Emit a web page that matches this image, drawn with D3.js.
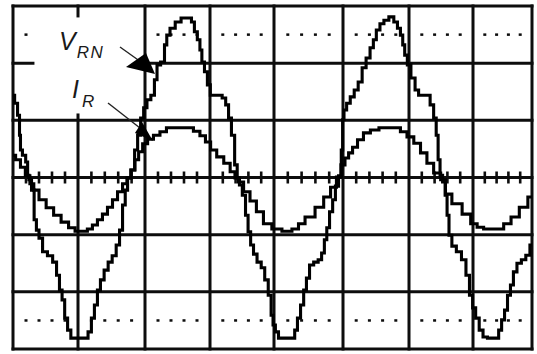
<!DOCTYPE html>
<html>
<head>
<meta charset="utf-8">
<script src="https://cdn.jsdelivr.net/npm/d3@7"></script>
<style>
  html, body { margin: 0; padding: 0; background: #fff; }
  svg { display: block; }
</style>
</head>
<body>
<svg id="scope" width="537" height="354"></svg>
<script>
// Phase voltage V_RN (time in divisions, amplitude in divisions)
const vrnTime = [0.00,0.05,0.09,0.11,0.12,0.17,0.22,0.23,0.26,0.31,0.34,0.38,0.42,0.49,0.57,0.65,0.69,0.74,0.77,0.82,0.86,0.92,1.03,1.12,1.18,1.22,1.27,1.31,1.36,1.42,1.48,1.54,1.60,1.64,1.69,1.72,1.76,1.82,1.87,1.91,1.96,2.00,2.06,2.12,2.17,2.20,2.28,2.32,2.35,2.42,2.51,2.60,2.69,2.74,2.78,2.83,2.86,2.89,2.94,2.98,3.03,3.16,3.22,3.27,3.31,3.36,3.41,3.44,3.48,3.53,3.58,3.61,3.66,3.70,3.77,3.83,3.88,3.94,3.97,4.00,4.04,4.09,4.19,4.28,4.32,4.36,4.41,4.45,4.49,4.54,4.61,4.67,4.71,4.75,4.78,4.83,4.87,4.91,4.96,4.99,5.00,5.03,5.08,5.14,5.20,5.26,5.32,5.38,5.44,5.48,5.53,5.59,5.65,5.74,5.80,5.85,5.89,5.92,5.95,6.00,6.06,6.13,6.17,6.30,6.36,6.41,6.44,6.47,6.50,6.55,6.58,6.61,6.64,6.70,6.78,6.86,6.92,6.97,7.02,7.07,7.14,7.20,7.29,7.41,7.46,7.51,7.56,7.61,7.66,7.71,7.78,7.86,7.93,8.00];
const vrnValue = [1.44,1.30,1.09,0.74,0.48,0.39,0.27,0.04,-0.04,-0.22,-0.74,-0.92,-1.06,-1.30,-1.37,-1.48,-1.71,-1.97,-2.14,-2.46,-2.67,-2.81,-2.81,-2.81,-2.70,-2.46,-2.23,-1.97,-1.79,-1.62,-1.48,-1.37,-1.18,-0.92,-0.48,-0.22,-0.01,0.13,0.48,0.74,1.04,1.22,1.36,1.44,1.71,1.97,2.02,2.32,2.49,2.61,2.72,2.79,2.79,2.72,2.55,2.41,2.23,2.02,1.85,1.62,1.44,1.44,1.39,1.27,1.04,0.74,0.22,-0.01,-0.13,-0.31,-0.66,-0.95,-1.18,-1.34,-1.48,-1.58,-1.79,-2.06,-2.41,-2.58,-2.70,-2.81,-2.81,-2.81,-2.67,-2.46,-2.23,-1.97,-1.76,-1.53,-1.48,-1.44,-1.32,-1.09,-0.88,-0.60,-0.39,-0.15,0.03,0.48,1.01,1.18,1.30,1.41,1.53,1.67,1.92,2.09,2.27,2.41,2.58,2.69,2.75,2.81,2.72,2.61,2.49,2.32,2.14,1.97,1.74,1.53,1.44,1.44,1.27,1.04,0.74,0.31,0.04,-0.08,-0.31,-0.66,-1.01,-1.20,-1.30,-1.44,-1.71,-2.06,-2.28,-2.46,-2.67,-2.79,-2.81,-2.81,-2.67,-2.49,-2.32,-2.06,-1.88,-1.65,-1.50,-1.44,-1.36,-1.18];

// Line current I_R
const irTime = [0.00,0.08,0.15,0.23,0.29,0.35,0.45,0.57,0.68,0.80,0.91,1.00,1.10,1.18,1.25,1.33,1.40,1.48,1.55,1.63,1.70,1.76,1.82,1.88,1.93,2.00,2.08,2.18,2.28,2.38,2.54,2.69,2.80,2.89,2.97,3.05,3.16,3.27,3.36,3.42,3.47,3.58,3.67,3.78,3.89,4.04,4.19,4.33,4.38,4.52,4.67,4.77,4.87,4.94,5.00,5.06,5.11,5.18,5.26,5.36,5.47,5.62,5.82,5.92,6.02,6.13,6.23,6.33,6.44,6.55,6.59,6.75,6.91,7.02,7.12,7.24,7.46,7.58,7.71,7.86,8.00];
const irValue = [0.39,0.31,0.18,0.03,-0.11,-0.22,-0.39,-0.53,-0.66,-0.78,-0.88,-0.94,-0.94,-0.90,-0.83,-0.74,-0.64,-0.52,-0.39,-0.25,-0.11,-0.01,0.13,0.31,0.45,0.59,0.67,0.74,0.80,0.87,0.87,0.87,0.81,0.73,0.62,0.48,0.36,0.25,0.10,-0.01,-0.08,-0.25,-0.41,-0.60,-0.81,-0.90,-0.94,-0.90,-0.81,-0.69,-0.52,-0.34,-0.17,0.01,0.22,0.34,0.43,0.53,0.66,0.78,0.83,0.87,0.87,0.80,0.71,0.60,0.43,0.25,0.08,-0.04,-0.29,-0.46,-0.64,-0.81,-0.87,-0.90,-0.90,-0.81,-0.69,-0.52,-0.34];

// Graticule: 8 x 6 major divisions, 5 minor steps per division
const xDivisions = d3.range(0, 9);
const yDivisions = d3.range(-3, 4);
const minorSteps = 5;

const svg = d3.select("#scope");
const ink = "#0d0d0d";

// time axis (screen graticule is slightly uneven, so the scale is piecewise)
const x = d3.scaleLinear().domain(xDivisions).range([13, 78, 145, 210, 274, 343, 409, 473, 532]);
const y = d3.scaleLinear().domain([-3, 3]).range([349, 6]);

const grid = svg.append("g");

// major grid lines
grid.selectAll("line.v").data(xDivisions).join("line")
  .attr("x1", d => x(d)).attr("x2", d => x(d))
  .attr("y1", y(3) - 1.5).attr("y2", y(-3) + 1.5)
  .attr("stroke", ink).attr("stroke-width", 3);
grid.selectAll("line.h").data(yDivisions).join("line")
  .attr("x1", x(0) - 1.5).attr("x2", x(8) + 1.5)
  .attr("y1", d => y(d)).attr("y2", d => y(d))
  .attr("stroke", ink).attr("stroke-width", 3);

// minor positions between major lines
const minor = [];
for (let d = 0; d < 8; d++) {
  for (let k = 1; k < minorSteps; k++) minor.push(d + k / minorSteps);
}

// ticks on the centre line
grid.selectAll("line.tick").data(minor).join("line")
  .attr("x1", d => x(d)).attr("x2", d => x(d))
  .attr("y1", y(0) - 6).attr("y2", y(0) + 6)
  .attr("stroke", ink).attr("stroke-width", 2.6);

// dotted reference rows
[2.5, -2.5].forEach(level => {
  grid.append("g").selectAll("rect").data(minor).join("rect")
    .attr("x", d => x(d) - 1.5).attr("y", y(level) - 1.2)
    .attr("width", 3).attr("height", 2.5)
    .attr("fill", ink);
});

// label panel
svg.append("rect")
  .attr("x", x(0.33)).attr("y", y(2.8))
  .attr("width", x(1.97) - x(0.33)).attr("height", y(1.12) - y(2.8))
  .attr("fill", "#fff");

// traces
const trace = (ts, vs) => d3.line()
  .x((d, i) => x(ts[i]))
  .y(d => y(d))
  .curve(d3.curveStep)(vs);

svg.append("path").attr("d", trace(vrnTime, vrnValue))
  .attr("fill", "none").attr("stroke", "#000").attr("stroke-width", 3.1)
  .attr("stroke-linejoin", "miter");
svg.append("path").attr("d", trace(irTime, irValue))
  .attr("fill", "none").attr("stroke", "#000").attr("stroke-width", 3.1)
  .attr("stroke-linejoin", "miter");

// labels
const font = "'Liberation Sans', Arial, sans-serif";
const vLabel = svg.append("text").attr("x", 59).attr("y", 50)
  .attr("font-family", font).attr("font-style", "italic").attr("fill", "#1a1a1a");
vLabel.append("tspan").attr("font-size", 25).text("V");
vLabel.append("tspan").attr("font-size", 17).attr("dy", 8).attr("dx", 1)
  .attr("letter-spacing", 1.5).text("RN");

const iLabel = svg.append("text").attr("x", 72).attr("y", 98)
  .attr("font-family", font).attr("font-style", "italic").attr("fill", "#1a1a1a");
iLabel.append("tspan").attr("font-size", 25).text("I");
iLabel.append("tspan").attr("font-size", 17).attr("dy", 9).attr("dx", 3).text("R");

// pointer arrows
svg.append("line").attr("x1", 120).attr("y1", 47).attr("x2", 141).attr("y2", 62)
  .attr("stroke", "#222").attr("stroke-width", 1.4);
svg.append("path").attr("d", "M126,67L146,53L155,74Z").attr("fill", "#000");

svg.append("line").attr("x1", 108).attr("y1", 103).attr("x2", 140).attr("y2", 128)
  .attr("stroke", "#222").attr("stroke-width", 1.4);
svg.append("path").attr("d", "M142,122L135,133L153,141Z").attr("fill", "#000");
</script>
</body>
</html>
